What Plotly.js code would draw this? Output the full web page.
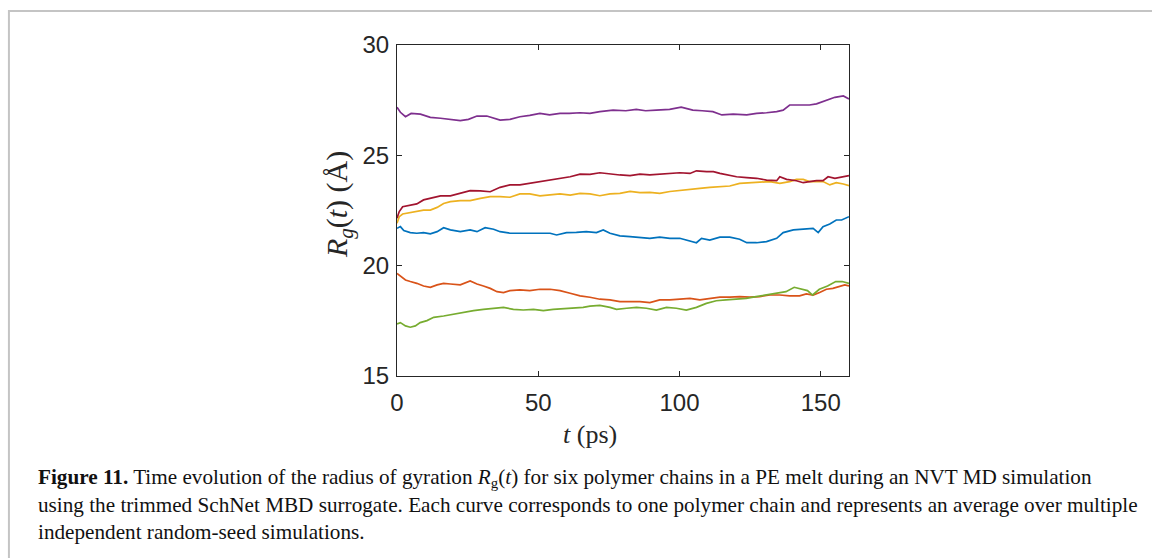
<!DOCTYPE html>
<html>
<head>
<meta charset="utf-8">
<script src="https://cdn.plot.ly/plotly-3.0.1.min.js"></script>
<style>
  html, body { margin: 0; padding: 0; background: #ffffff; }
  #chart { width: 1152px; height: 558px; }
</style>
</head>
<body>
<div id="chart"></div>
<script>
// ---- Data (time in ps, Rg in Å) ----
const purpleT = [0, 1.2, 3, 5, 8.3, 11.8, 15.4, 18.9, 22.4, 25.3, 28.3, 31.8, 34, 36.5, 40, 43.5, 47, 50.6, 54, 57.7, 61, 64.8, 68.3, 71.8, 76.5, 81, 84.7, 88, 91.8, 96.5, 100.6, 104.7, 108, 111.8, 115, 119, 123.8, 127.3, 130.8, 134.4, 136.7, 139, 142.5, 146, 148.5, 152, 155, 158, 160];
const purpleR = [27.18, 26.95, 26.75, 26.9, 26.87, 26.72, 26.68, 26.63, 26.57, 26.63, 26.78, 26.78, 26.68, 26.6, 26.63, 26.75, 26.81, 26.9, 26.83, 26.9, 26.9, 26.93, 26.9, 26.98, 27.05, 27.02, 27.08, 27.02, 27.05, 27.08, 27.18, 27.05, 27.02, 26.98, 26.83, 26.87, 26.83, 26.9, 26.93, 26.98, 27.05, 27.28, 27.28, 27.28, 27.33, 27.51, 27.63, 27.69, 27.55];

const crimsonT = [0, 0.8, 2, 4.7, 7, 9.4, 11.8, 15.4, 18.9, 22.4, 25.9, 29.5, 33, 36.5, 40, 43.5, 47, 50.6, 54.2, 57.7, 61.3, 64.8, 68.3, 71.8, 75.4, 78.9, 82.5, 86, 89.5, 93, 96.6, 100.1, 103.7, 106, 109.6, 112, 114.3, 116.7, 120.2, 123.8, 127.3, 130.8, 134.4, 135.5, 137.9, 141.4, 143.8, 146, 148.5, 150.8, 152.6, 155, 157.4, 160];
const crimsonR = [22.15, 22.45, 22.67, 22.75, 22.8, 22.98, 23.05, 23.16, 23.16, 23.28, 23.4, 23.39, 23.35, 23.55, 23.66, 23.66, 23.73, 23.81, 23.88, 23.96, 24.03, 24.15, 24.14, 24.21, 24.15, 24.11, 24.08, 24.15, 24.11, 24.15, 24.18, 24.21, 24.18, 24.3, 24.26, 24.26, 24.18, 24.11, 24.03, 23.99, 23.96, 23.88, 23.85, 24.03, 23.91, 23.85, 23.76, 23.81, 23.85, 23.85, 24.03, 23.96, 24.03, 24.08];

const yellowT = [0, 0.8, 2, 4.7, 7, 9.4, 11.8, 14.2, 16.5, 18.9, 22.4, 25.9, 29.5, 33, 36.5, 40, 43.5, 47, 50.6, 54.2, 57.7, 61.3, 64.8, 68.3, 71.8, 75.4, 78.9, 82.5, 86, 89.5, 93, 96.6, 100.1, 103.7, 107.2, 110.7, 114.3, 117.8, 121.3, 124.9, 128.4, 132, 135.5, 139, 141.4, 143.8, 146, 148.5, 150.8, 153.2, 155.5, 158, 160];
const yellowR = [21.92, 22.22, 22.34, 22.4, 22.45, 22.52, 22.52, 22.64, 22.82, 22.9, 22.95, 22.95, 23.05, 23.13, 23.13, 23.1, 23.25, 23.25, 23.16, 23.2, 23.25, 23.2, 23.28, 23.25, 23.17, 23.25, 23.28, 23.37, 23.31, 23.32, 23.28, 23.36, 23.4, 23.43, 23.5, 23.55, 23.58, 23.61, 23.73, 23.76, 23.76, 23.81, 23.73, 23.81, 23.91, 23.91, 23.81, 23.81, 23.81, 23.66, 23.76, 23.7, 23.63];

const blueT = [0, 1.2, 2.4, 4.7, 7, 9.4, 11.8, 14.2, 16.5, 18.9, 22.4, 25.9, 28.3, 31.2, 34.2, 36.5, 40, 43.5, 47, 50.6, 54.2, 56.5, 60, 63.5, 67, 70.6, 73, 75.4, 78.9, 82.5, 86, 89.5, 93, 96.6, 100.1, 103.7, 106, 107.8, 110.7, 114.3, 117.8, 121.3, 123.8, 127.3, 130.8, 134.4, 136.7, 140.3, 143.8, 147.3, 149.1, 150.8, 153.2, 155.5, 157.4, 158.6, 160];
const blueR = [21.69, 21.77, 21.59, 21.5, 21.47, 21.5, 21.44, 21.54, 21.72, 21.62, 21.54, 21.62, 21.54, 21.72, 21.65, 21.54, 21.47, 21.47, 21.5, 21.5, 21.47, 21.39, 21.5, 21.51, 21.54, 21.5, 21.62, 21.47, 21.35, 21.32, 21.29, 21.24, 21.29, 21.24, 21.24, 21.12, 21.04, 21.24, 21.16, 21.29, 21.29, 21.2, 21.04, 21.04, 21.09, 21.24, 21.5, 21.62, 21.65, 21.69, 21.5, 21.77, 21.89, 22.07, 22.07, 22.15, 22.22];

const orangeT = [0, 1.2, 3, 4.7, 7, 9.4, 11.8, 14.2, 16.5, 18.9, 22.4, 25.9, 28.3, 30.6, 33, 35.4, 37.7, 40, 43.5, 47, 50.6, 54.2, 57.7, 61.3, 64.8, 68.3, 71.8, 75.4, 78.9, 82.5, 86, 89.5, 93, 96.6, 100.1, 103.7, 107.2, 110.7, 114.3, 117.8, 121.3, 124.9, 128.4, 132, 135.5, 139, 142.5, 144.9, 147.3, 149.6, 152, 154.3, 156.7, 158.5, 160];
const orangeR = [19.65, 19.53, 19.35, 19.28, 19.2, 19.08, 19.02, 19.13, 19.2, 19.17, 19.13, 19.31, 19.17, 19.08, 18.97, 18.82, 18.78, 18.87, 18.9, 18.87, 18.93, 18.93, 18.87, 18.75, 18.63, 18.57, 18.48, 18.45, 18.37, 18.37, 18.37, 18.33, 18.45, 18.45, 18.48, 18.52, 18.45, 18.52, 18.57, 18.57, 18.6, 18.57, 18.6, 18.67, 18.67, 18.63, 18.63, 18.72, 18.67, 18.78, 18.93, 18.97, 19.05, 19.13, 19.08];

const greenT = [0, 1.2, 3, 4.7, 6.5, 8.2, 10.6, 13, 16.5, 20, 23.6, 27.1, 30.6, 34.2, 37.7, 41.2, 44.7, 48.3, 51.8, 55.3, 58.9, 62.4, 65.9, 68.3, 71.8, 75.4, 77.7, 81.3, 84.8, 88.3, 91.8, 95.4, 98.9, 102.4, 106, 109.5, 113, 116.5, 120, 123.6, 127.1, 130.6, 134.1, 137.7, 140.6, 142.4, 145.3, 147.1, 149.5, 152.4, 155.3, 157.6, 160];
const greenR = [17.36, 17.42, 17.27, 17.21, 17.27, 17.42, 17.51, 17.66, 17.72, 17.81, 17.87, 17.96, 18.02, 18.07, 18.11, 18.02, 17.99, 18.02, 17.96, 18.02, 18.05, 18.07, 18.11, 18.17, 18.2, 18.11, 18.02, 18.07, 18.11, 18.07, 17.99, 18.11, 18.07, 17.99, 18.11, 18.29, 18.41, 18.45, 18.48, 18.52, 18.6, 18.67, 18.72, 18.82, 19.02, 18.97, 18.87, 18.67, 18.93, 19.08, 19.28, 19.28, 19.2];

const xTicks = [0, 50, 100, 150];
const yTicks = [15, 20, 25, 30];

const captionLines = [
  "<b>Figure 11.</b> Time evolution of the radius of gyration <i>R</i><sub>g</sub>(<i>t</i>) for six polymer chains in a PE melt during an NVT MD simulation",
  "using the trimmed SchNet MBD surrogate. Each curve corresponds to one polymer chain and represents an average over multiple",
  "independent random-seed simulations."
];

// ---- Chart ----
function line(t, r, color) {
  return { x: t, y: r, type: 'scatter', mode: 'lines', line: { color: color, width: 1.7 }, hoverinfo: 'skip', showlegend: false };
}
const traces = [
  line(blueT, blueR, '#0072BD'),
  line(orangeT, orangeR, '#D95319'),
  line(yellowT, yellowR, '#EDB120'),
  line(purpleT, purpleR, '#7E2F8E'),
  line(greenT, greenR, '#77AC30'),
  line(crimsonT, crimsonR, '#A2142F')
];

const L = 397, R = 849.5, T = 45, B = 376;
const W = 1152, H = 558;
const px = v => (v - L) / (R - L);
const py = v => (B - v) / (B - T);

const axisCommon = {
  showline: true, linecolor: '#262626', linewidth: 1, mirror: 'ticks',
  ticks: 'inside', ticklen: 5, tickcolor: '#262626', tickwidth: 1,
  showgrid: false, zeroline: false,
  tickfont: { family: 'Liberation Sans, Arial, sans-serif', size: 24, color: '#262626' }
};

const annotations = [{
  text: captionLines.join('<br>'), xref: 'paper', yref: 'paper', x: px(36), y: py(463),
  xanchor: 'left', yanchor: 'top', showarrow: false, align: 'left',
  font: { family: 'Liberation Serif, Times New Roman, serif', size: 21.2, color: '#111111' }
}, {
  text: '<i>t</i> (ps)', xref: 'paper', yref: 'paper', x: px(590), y: py(434),
  xanchor: 'center', yanchor: 'middle', showarrow: false,
  font: { family: 'Liberation Serif, Times New Roman, serif', size: 26, color: '#262626' }
}, {
  text: '<i>R</i><sub><i>g</i></sub>(<i>t</i>) (Å)', xref: 'paper', yref: 'paper', x: px(339), y: py(205),
  xanchor: 'center', yanchor: 'middle', showarrow: false, textangle: -90,
  font: { family: 'Liberation Serif, Times New Roman, serif', size: 30, color: '#262626' }
}];

const layout = {
  width: W, height: H,
  margin: { l: L, r: W - R, t: T, b: H - B, pad: 0 },
  paper_bgcolor: '#ffffff', plot_bgcolor: '#ffffff',
  xaxis: Object.assign({}, axisCommon, { range: [0, 160], tickvals: xTicks, ticktext: xTicks.map(String), ticklabelstandoff: 5 }),
  yaxis: Object.assign({}, axisCommon, { range: [15, 30], tickvals: yTicks, ticktext: yTicks.map(String), ticklabelstandoff: 2 }),
  annotations: annotations,
  shapes: [{
    type: 'rect', xref: 'paper', yref: 'paper', layer: 'above',
    x0: px(8.5), x1: px(1160), y0: py(600), y1: py(11),
    line: { color: '#c4c4c4', width: 2 }, fillcolor: 'rgba(0,0,0,0)'
  }]
};

Plotly.newPlot('chart', traces, layout, { staticPlot: true, displayModeBar: false });
</script>
</body>
</html>
